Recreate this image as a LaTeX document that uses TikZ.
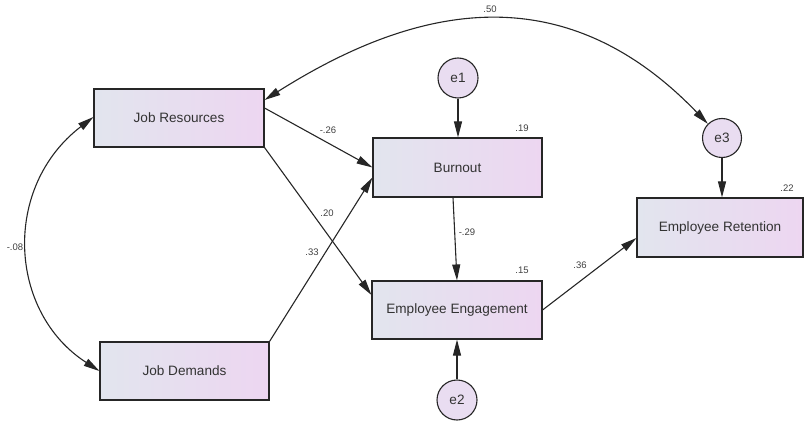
\documentclass[tikz,border=0pt]{standalone}
\usepackage{fontspec}
\setmainfont{Liberation Sans}
\usetikzlibrary{arrows.meta}
\definecolor{boxL}{HTML}{E2E5EE}
\definecolor{boxR}{HTML}{EDD6F1}
\definecolor{circ}{HTML}{E9DDF1}
\tikzset{
  varbox/.style={draw=black!85, line width=1.1pt, left color=boxL, right color=boxR, inner sep=0pt, font=\fontsize{13.6}{15}\selectfont, text=black!80},
  errc/.style={circle, draw=black!85, line width=1.1pt, fill=circ, minimum size=40pt, inner sep=0pt, font=\fontsize{13.6}{15}\selectfont, text=black!80},
  path/.style={-{Triangle[length=16pt,width=8pt]}, line width=1.1pt, black!85},
  cov/.style={{Triangle[length=16pt,width=8pt]}-{Triangle[length=16pt,width=8pt]}, line width=1.1pt, black!85},
  coef/.style={font=\fontsize{9.5}{10}\selectfont, text=black!75, inner sep=0pt}
}
\begin{document}
\begin{tikzpicture}[x=1pt,y=-1pt]
\useasboundingbox (0,0) rectangle (805,422);
\node[varbox, minimum width=170pt, minimum height=58pt] (jr) at (179,118) {Job Resources};
\node[varbox, minimum width=169pt, minimum height=58pt] (jd) at (184.5,371) {Job Demands};
\node[varbox, minimum width=169pt, minimum height=59pt] (bo) at (457.5,167.5) {Burnout};
\node[varbox, minimum width=170pt, minimum height=58pt] (ee) at (457,310) {Employee Engagement};
\node[varbox, minimum width=166pt, minimum height=59pt] (er) at (720,227.5) {Employee Retention};
\node[errc] (e1) at (458,78) {e1};
\node[errc] (e2) at (457,400) {e2};
\node[errc, minimum size=39pt] (e3) at (722,138) {e3};

\draw[path] ([yshift=10pt]jr.east) -- (bo.west);
\draw[path] (jr.south east) -- ([yshift=15pt]ee.west);
\draw[path] (jd.north east) -- ([yshift=-10pt]bo.west);
\draw[path] (e1.south) -- (e1.south |- bo.north);
\draw[path] ([xshift=-4.5pt]bo.south) -- (ee.north);
\draw[path] (e2.north) -- (e2.north |- ee.south);
\draw[path] (ee.east) -- ([yshift=-10.5pt]er.west);
\draw[path] (e3.south) -- (e3.south |- er.north);
\draw[cov] ([yshift=18pt]jr.east) .. controls (410,8) and (560,-30) .. (e3.135);
\draw[cov] ([yshift=1pt]jr.west) .. controls (2,187) and (8,312) .. (jd.west);

\node[coef] (l50) at (490,9) {.50};
\node[coef] (l19) at (522,128) {.19};
\node[coef] (l22) at (787,188) {.22};
\node[coef] (l26) at (328,130) {-.26};
\node[coef] (l20) at (327,213) {.20};
\node[coef] (l33) at (312,252) {.33};
\node[coef] (l08) at (15,247) {-.08};
\node[coef] (l29) at (467,232) {-.29};
\node[coef] (l15) at (522,270) {.15};
\node[coef] (l36) at (580,265) {.36};
\end{tikzpicture}
\end{document}
